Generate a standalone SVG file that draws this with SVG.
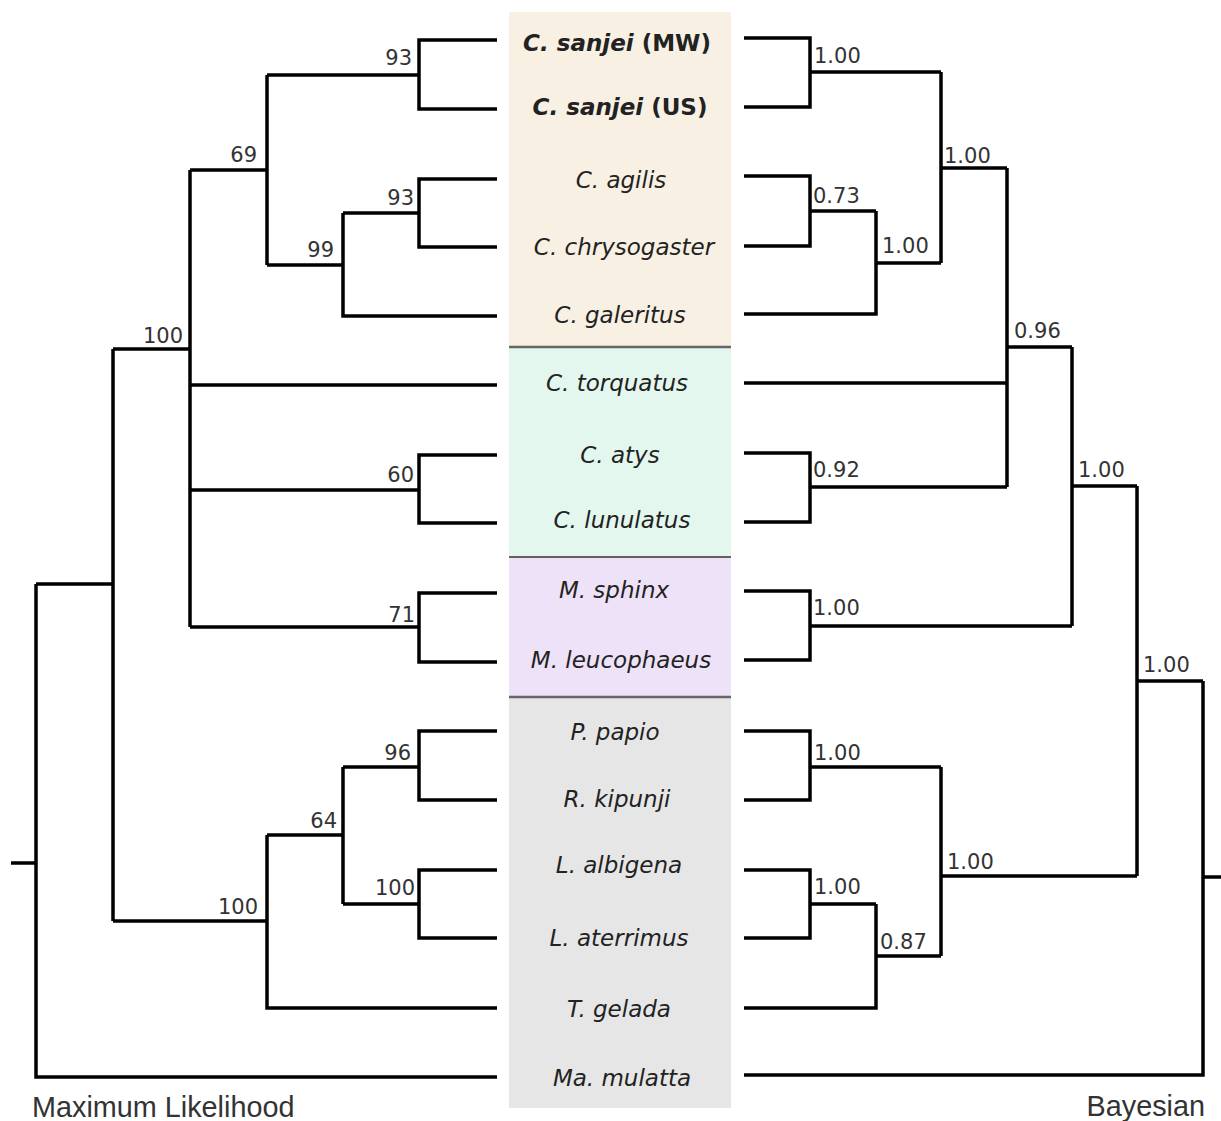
<svg xmlns="http://www.w3.org/2000/svg" width="1221" height="1121" viewBox="0 0 1221 1121">
<style>
.br{fill:none;stroke:#000;stroke-width:3.5;stroke-linejoin:miter;stroke-linecap:butt}
.sp{font-family:"DejaVu Sans",Verdana,sans-serif;font-size:23px;font-style:italic;fill:#222;text-anchor:middle}
.bd{font-weight:bold}
.up{font-style:normal}
.ml{font-family:"DejaVu Sans",Verdana,sans-serif;font-size:21px;fill:#333;text-anchor:end}
.ba{font-family:"DejaVu Sans",Verdana,sans-serif;font-size:21px;fill:#333;text-anchor:start}
.ti{font-family:"Liberation Sans",Arial,sans-serif;font-size:28.8px;fill:#333}
.sep{stroke:#666;stroke-width:2.5}
</style>
<rect width="1221" height="1121" fill="#fff"/>
<g id="bands">
<rect x="509" y="12" width="222" height="335" fill="#F8F0E3"/>
<rect x="509" y="347" width="222" height="210" fill="#E3F7EF"/>
<rect x="509" y="557" width="222" height="140" fill="#EEE2F8"/>
<rect x="509" y="697" width="222" height="411" fill="#E6E6E6"/>
<line class="sep" x1="509" y1="347" x2="731" y2="347"/>
<line x1="509" y1="557" x2="731" y2="557" stroke="#333" stroke-width="1.5"/>
<line class="sep" x1="509" y1="697" x2="731" y2="697"/>
</g>
<g id="connectors">
<path class="br" d="M497,40 H419 V109 H497 M419,75 H267"/>
<path class="br" d="M497,179 H419 V247 H497 M419,213 H343"/>
<path class="br" d="M343,213 V316 H497 M343,265 H267"/>
<path class="br" d="M267,75 V265 M267,170 H190"/>
<path class="br" d="M190,170 V627 M190,385 H497 M190,490 H419 M497,455 H419 V523 H497 M190,627 H419 M497,593 H419 V662 H497"/>
<path class="br" d="M190,349 H113 M113,349 V921 M113,584 H36"/>
<path class="br" d="M497,731 H419 V800 H497 M419,767 H343 M497,870 H419 V938 H497 M419,904 H343 M343,767 V904 M343,835 H267 M267,835 V1008 H497 M267,921 H113"/>
<path class="br" d="M36,584 V1077 H497 M11,863 H36"/>
<path class="br" d="M744,38 H810 V107 H744 M810,72 H941"/>
<path class="br" d="M744,176 H810 V246 H744 M810,211 H876 M876,211 V314 H744 M876,263 H941"/>
<path class="br" d="M941,72 V263 M941,168 H1007"/>
<path class="br" d="M744,383 H1007 M744,453 H810 V522 H744 M810,487 H1007 M1007,168 V487 M1007,347 H1072"/>
<path class="br" d="M744,591 H810 V660 H744 M810,626 H1072 M1072,347 V626 M1072,486 H1137"/>
<path class="br" d="M744,731 H810 V800 H744 M810,767 H941 M744,870 H810 V938 H744 M810,904 H876 M876,904 V1008 H744 M876,956 H941 M941,767 V956 M941,876 H1137"/>
<path class="br" d="M1137,486 V876 M1137,681 H1203 M1203,681 V1075 H744 M1203,877 H1221"/>
</g>
<g id="ml-support">
<text class="ml" x="412" y="65">93</text>
<text class="ml" x="257" y="162">69</text>
<text class="ml" x="414" y="205">93</text>
<text class="ml" x="334" y="257">99</text>
<text class="ml" x="183" y="343">100</text>
<text class="ml" x="414" y="482">60</text>
<text class="ml" x="415" y="622">71</text>
<text class="ml" x="411" y="760">96</text>
<text class="ml" x="337" y="828">64</text>
<text class="ml" x="415" y="895">100</text>
<text class="ml" x="258" y="914">100</text>
</g>
<g id="bayes-support">
<text class="ba" x="814" y="63">1.00</text>
<text class="ba" x="813" y="203">0.73</text>
<text class="ba" x="882" y="253">1.00</text>
<text class="ba" x="944" y="163">1.00</text>
<text class="ba" x="1014" y="338">0.96</text>
<text class="ba" x="813" y="477">0.92</text>
<text class="ba" x="1078" y="477">1.00</text>
<text class="ba" x="813" y="615">1.00</text>
<text class="ba" x="1143" y="672">1.00</text>
<text class="ba" x="814" y="760">1.00</text>
<text class="ba" x="814" y="894">1.00</text>
<text class="ba" x="880" y="949">0.87</text>
<text class="ba" x="947" y="869">1.00</text>
</g>
<g id="taxon-sanjei-mw"><text class="sp bd" x="617" y="51">C. sanjei<tspan class="up"> (MW)</tspan></text></g>
<g id="taxon-sanjei-us"><text class="sp bd" x="620" y="115">C. sanjei<tspan class="up"> (US)</tspan></text></g>
<g id="taxon-agilis"><text class="sp" x="621" y="188">C. agilis</text></g>
<g id="taxon-chrysogaster"><text class="sp" x="624" y="255">C. chrysogaster</text></g>
<g id="taxon-galeritus"><text class="sp" x="620" y="323">C. galeritus</text></g>
<g id="taxon-torquatus"><text class="sp" x="617" y="391">C. torquatus</text></g>
<g id="taxon-atys"><text class="sp" x="620" y="463">C. atys</text></g>
<g id="taxon-lunulatus"><text class="sp" x="622" y="528">C. lunulatus</text></g>
<g id="taxon-sphinx"><text class="sp" x="614" y="598">M. sphinx</text></g>
<g id="taxon-leucophaeus"><text class="sp" x="621" y="668">M. leucophaeus</text></g>
<g id="taxon-papio"><text class="sp" x="615" y="740">P. papio</text></g>
<g id="taxon-kipunji"><text class="sp" x="617" y="807">R. kipunji</text></g>
<g id="taxon-albigena"><text class="sp" x="619" y="873">L. albigena</text></g>
<g id="taxon-aterrimus"><text class="sp" x="619" y="946">L. aterrimus</text></g>
<g id="taxon-gelada"><text class="sp" x="619" y="1017">T. gelada</text></g>
<g id="taxon-mulatta"><text class="sp" x="622" y="1086">Ma. mulatta</text></g>
<g id="titles">
<text class="ti" x="32" y="1117">Maximum Likelihood</text>
<text class="ti" x="1205" y="1116" text-anchor="end">Bayesian</text>
</g>
</svg>
